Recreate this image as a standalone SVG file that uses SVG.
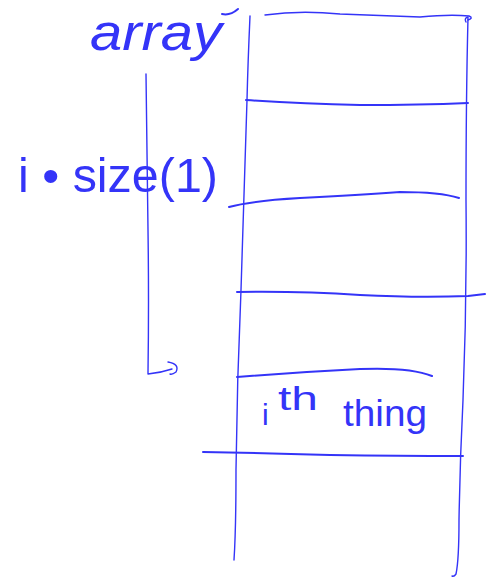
<svg xmlns="http://www.w3.org/2000/svg" width="491" height="578" viewBox="0 0 491 578">
<style>
.ink{fill:none;stroke:#3434f8;stroke-linecap:round;stroke-linejoin:round}
.thin{stroke-width:1.4}
.mid{stroke-width:2}
.lbl{fill:#3434f8;font-family:"Liberation Sans",Arial,sans-serif}
</style>
<rect width="491" height="578" fill="#ffffff"/>
<g id="array-label">
<text class="lbl" x="90" y="50" font-size="52" font-style="italic" textLength="132" lengthAdjust="spacingAndGlyphs">array</text>
<path class="ink mid" d="M222 14 Q230 16 238 9"/>
</g>
<g id="array">
<path class="ink thin" d="M250 16 Q248 60 247 100 Q244 200 241 290 Q237 380 236 470 Q236 530 234 560"/>
<path class="ink thin" d="M466 22 Q464 18 468 17 Q466 100 466 200 Q467 300 463 400 Q460 460 459 520 Q459 560 456 574 Q454 577 452 576"/>
<path class="ink thin" d="M265 15 Q300 10 340 14 Q390 16 420 17 Q450 14 469 16 Q474 18 468 20"/>
<path class="ink mid" d="M246 100 Q300 104 360 105 Q420 105 468 103"/>
<path class="ink mid" d="M229 207 Q250 201 300 198 Q360 195 400 192 Q440 192 459 198"/>
<path class="ink mid" d="M237 292 Q300 291 360 295 Q420 298 468 296 L485 294"/>
<path class="ink mid" d="M237 377 Q300 372 360 369 Q410 367 432 376"/>
<path class="ink mid" d="M203 452 Q260 453 330 455 Q400 456 463 456"/>
</g>
<g id="ith-thing">
<text class="lbl" x="262" y="425" font-size="30">i</text>
<text class="lbl" x="278" y="410" font-size="34" textLength="40" lengthAdjust="spacingAndGlyphs">th</text>
<text class="lbl" x="343" y="426" font-size="36" textLength="84" lengthAdjust="spacingAndGlyphs">thing</text>
</g>
<g id="index-label">
<text class="lbl" x="18" y="192" font-size="48" textLength="200" lengthAdjust="spacingAndGlyphs">i • size(1)</text>
</g>
<g id="connectors">
<path class="ink thin" d="M146 74 Q147 150 148 230 Q149 300 148 374 Q160 373 172 369 M168 362 Q180 364 176 372 Q172 375 170 374"/>
</g>
</svg>
